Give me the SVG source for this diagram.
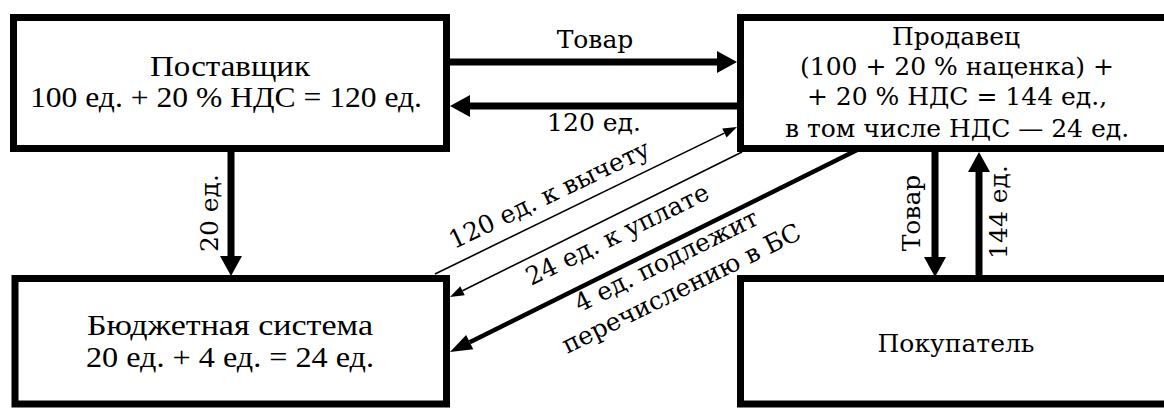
<svg xmlns="http://www.w3.org/2000/svg" width="1164" height="408" viewBox="0 0 1164 408">
<style>
.box{fill:#fff;stroke:#000;stroke-width:7}
.t{font-family:"DejaVu Serif","Liberation Serif",serif;font-size:25px;fill:#000;text-anchor:middle}
.l{font-family:"Liberation Serif","DejaVu Serif",serif;font-size:30px;fill:#000;text-anchor:middle}
.thick{stroke:#000;stroke-width:7;fill:none}
.mid{stroke:#000;stroke-width:4.5;fill:none}
.thin{stroke:#000;stroke-width:1.6;fill:none}
</style>
<defs>
<marker id="hb" markerUnits="userSpaceOnUse" markerWidth="24" markerHeight="24" refX="0" refY="11" orient="auto" overflow="visible"><path d="M0,0 L20,11 L0,22 z" fill="#000"/></marker>
<marker id="hm" markerUnits="userSpaceOnUse" markerWidth="24" markerHeight="20" refX="0" refY="8" orient="auto" overflow="visible"><path d="M0,0 L22,8 L0,16 z" fill="#000"/></marker>
<marker id="hs" markerUnits="userSpaceOnUse" markerWidth="16" markerHeight="12" refX="0" refY="5" orient="auto" overflow="visible"><path d="M0,0 L14,5 L0,10 z" fill="#000"/></marker>
</defs>
<g id="supplier">
<rect class="box" x="13.5" y="17.5" width="433" height="131"/>
<text class="l" x="230" y="76" textLength="160" lengthAdjust="spacingAndGlyphs">Поставщик</text>
<text class="l" x="226" y="107" textLength="392" lengthAdjust="spacingAndGlyphs">100 ед. + 20 % НДС = 120 ед.</text>
</g>
<g id="seller">
<rect class="box" x="740.5" y="17.5" width="440" height="131"/>
<text class="t" x="956" y="45" font-size="26">Продавец</text>
<text class="t" x="957" y="75" font-size="26">(100 + 20 % наценка) +</text>
<text class="t" x="957" y="105" font-size="26">+ 20 % НДС = 144 ед.,</text>
<text class="t" x="957" y="137" font-size="26">в том числе НДС — 24 ед.</text>
</g>
<g id="budget">
<rect class="box" x="15" y="278.5" width="431.5" height="125.5"/>
<text class="l" x="230" y="335" textLength="286" lengthAdjust="spacingAndGlyphs">Бюджетная система</text>
<text class="l" x="230" y="367" textLength="288" lengthAdjust="spacingAndGlyphs">20 ед. + 4 ед. = 24 ед.</text>
</g>
<g id="buyer">
<rect class="box" x="740.5" y="278.5" width="440" height="125.5"/>
<text class="t" x="956" y="352" font-size="26">Покупатель</text>
</g>
<g id="connectors">
<path class="thick" d="M450,62 L717,62" marker-end="url(#hb)"/>
<path class="thick" d="M737,106 L470,106" marker-end="url(#hb)"/>
<path class="thick" d="M231,152 L231,256" marker-end="url(#hb)"/>
<path class="thick" d="M935,152 L935,257" marker-end="url(#hb)"/>
<path class="thick" d="M979,275 L979,172" marker-end="url(#hb)"/>
<path class="thin" d="M435,274 L724.4,133.1" marker-end="url(#hs)"/>
<path class="thin" d="M742,152 L462.5,290.8" marker-end="url(#hs)"/>
<path class="mid" d="M857,150 L469.7,342.2" marker-end="url(#hm)"/>
<text class="t" x="595" y="48">Товар</text>
<text class="t" x="594" y="131">120 ед.</text>
<text class="t" transform="translate(218 213) rotate(-90)">20 ед.</text>
<text class="t" transform="translate(920 213) rotate(-90)">Товар</text>
<text class="t" transform="translate(1007 212) rotate(-90)">144 ед.</text>
<text class="t" transform="translate(553 202) rotate(-25.5)">120 ед. к вычету</text>
<text class="t" transform="translate(621 242) rotate(-26)">24 ед. к уплате</text>
<text class="t" transform="translate(670 268) rotate(-26.2)">4 ед. подлежит</text>
<text class="t" transform="translate(685 296) rotate(-26.2)">перечислению в БС</text>
</g>
</svg>
